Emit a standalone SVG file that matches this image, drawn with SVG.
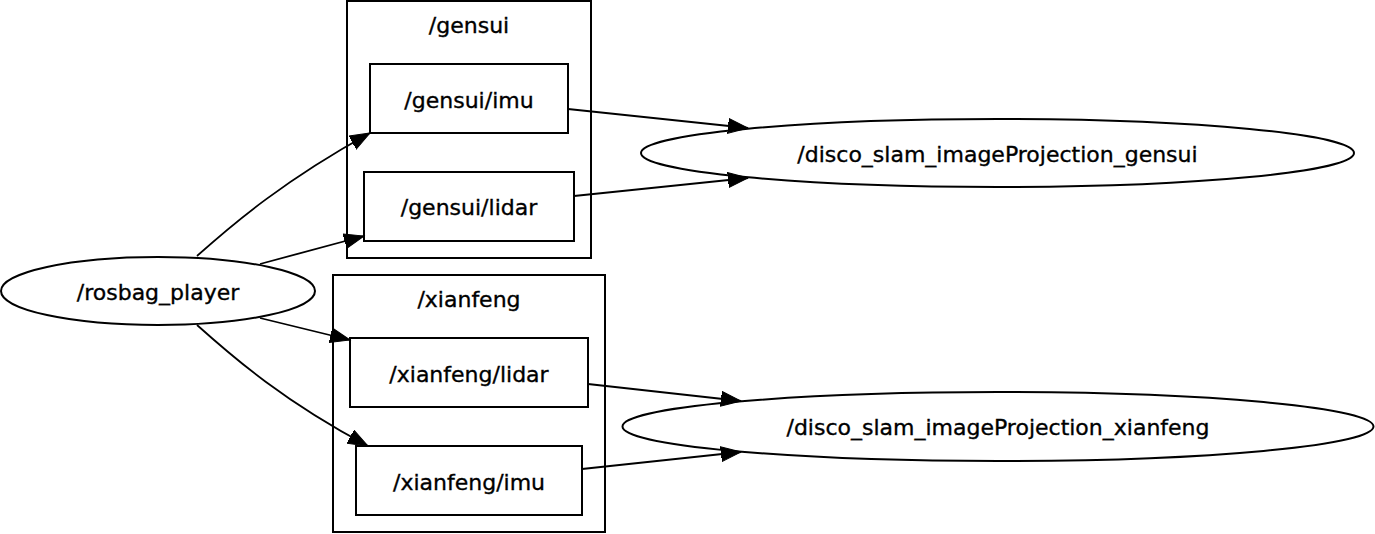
<svg xmlns="http://www.w3.org/2000/svg" width="1375" height="534" viewBox="0 0 1375 534">
<style>
text{font-family:"DejaVu Sans",Verdana,sans-serif;font-size:22px;fill:#000;stroke:#000;stroke-width:0.35;text-anchor:middle}
.s{fill:none;stroke:#000;stroke-width:2}
.e{fill:none;stroke:#000;stroke-width:1.8}
</style>
<defs>
<marker id="a" markerUnits="userSpaceOnUse" markerWidth="22" markerHeight="16" refX="20" refY="8" orient="auto" viewBox="0 0 22 16">
<polygon points="0,0.5 20,8 0,15.5" fill="#000" stroke="#000" stroke-width="1"/>
</marker>
</defs>
<g id="cluster_gensui"><rect class="s" x="347" y="1" width="244" height="257"/><text x="469" y="33">/gensui</text></g>
<g id="cluster_xianfeng"><rect class="s" x="333" y="275" width="272" height="257"/><text x="469" y="307">/xianfeng</text></g>
<g id="gensui_imu"><rect class="s" x="370" y="64" width="198" height="69"/><text x="469" y="108">/gensui/imu</text></g>
<g id="gensui_lidar"><rect class="s" x="364" y="172" width="210" height="69"/><text x="469" y="215">/gensui/lidar</text></g>
<g id="xianfeng_lidar"><rect class="s" x="350" y="338" width="238" height="69"/><text x="469" y="382">/xianfeng/lidar</text></g>
<g id="xianfeng_imu"><rect class="s" x="356" y="446" width="226" height="69"/><text x="469" y="490">/xianfeng/imu</text></g>
<g id="rosbag_player"><ellipse class="s" cx="158" cy="291" rx="157" ry="34"/><text x="158" y="300">/rosbag_player</text></g>
<g id="disco_gensui"><ellipse class="s" cx="997.5" cy="153" rx="356.5" ry="34"/><text x="997.5" y="162">/disco_slam_imageProjection_gensui</text></g>
<g id="disco_xianfeng"><ellipse class="s" cx="998" cy="426.5" rx="375.5" ry="34.5"/><text x="998" y="435">/disco_slam_imageProjection_xianfeng</text></g>
<g id="edges">
<path class="e" d="M197,256 C235,222 285,180 370,133" marker-end="url(#a)"/>
<path class="e" d="M260,264 L364,236" marker-end="url(#a)"/>
<path class="e" d="M260,318 L350,340" marker-end="url(#a)"/>
<path class="e" d="M197,325 C235,359 285,402 368,446" marker-end="url(#a)"/>
<path class="e" d="M568,109 L748,128" marker-end="url(#a)"/>
<path class="e" d="M574,196 L748,178" marker-end="url(#a)"/>
<path class="e" d="M588,384 L741,401" marker-end="url(#a)"/>
<path class="e" d="M582,469 L741,452" marker-end="url(#a)"/>
</g>
</svg>
